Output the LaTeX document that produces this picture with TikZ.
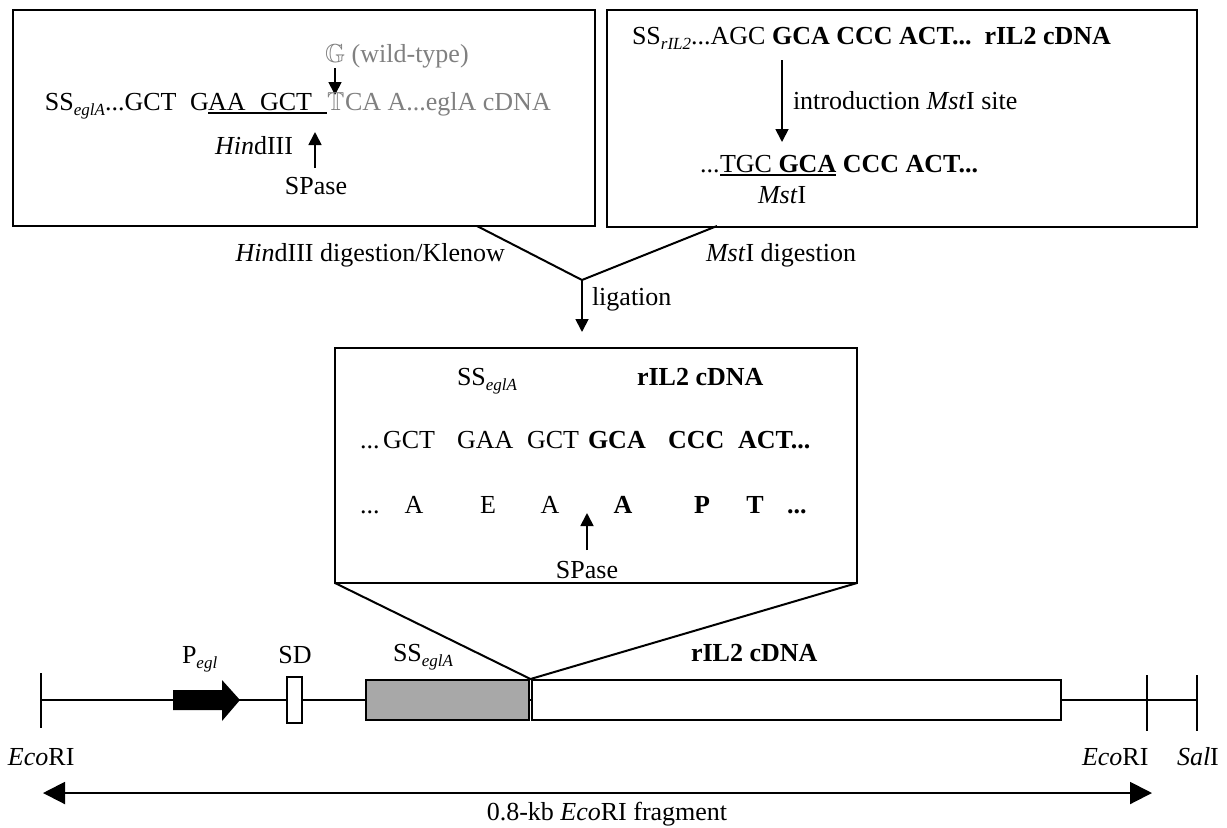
\documentclass[tikz,border=0pt]{standalone}
\usepackage{fontspec}
\setmainfont{Liberation Serif}
\usepackage{amssymb}
\usetikzlibrary{arrows.meta}
\definecolor{txtgray}{gray}{0.5}
\definecolor{boxgray}{gray}{0.66}
\newcommand{\sbi}[1]{\raisebox{-2.5pt}{\fontsize{8.5}{9}\selectfont\itshape #1}}
\tikzset{
  every node/.style={inner sep=0pt, outer sep=0pt, font=\fontsize{13}{15}\selectfont},
  frame/.style={draw, line width=1pt},
  ln/.style={line width=1pt},
  arr/.style={-{Triangle[length=6.5pt,width=6.5pt]}, line width=0.9pt},
  bigarr/.style={{Triangle[length=11pt,width=11pt]}-{Triangle[length=11pt,width=11pt]}, line width=1pt},
  uline/.style={line width=0.8pt},
}
\begin{document}
\begin{tikzpicture}[x=0.5pt,y=-0.5pt]
\useasboundingbox[fill=white] (0,0) rectangle (1227,827);

% ---------- frames ----------
\node[frame, minimum width=291pt, minimum height=108pt] (boxA) at (304,118) {};
\node[frame, minimum width=295pt, minimum height=108.5pt] (boxB) at (902,118.5) {};
\node[frame, minimum width=261pt, minimum height=117.5pt] (boxC) at (596,465.5) {};

% ---------- top-left box ----------
\node[anchor=base west, text=txtgray] (wt) at (325,62) {$\mathbb{G}$ (wild-type)};
\coordinate (wtA) at (335,68);
\coordinate (wtB) at (335,95);
\draw[arr] (wtA) -- (wtB);
\node[anchor=base west] (ssA) at (45,110) {SS\sbi{eglA}...GCT};
\node[anchor=base west] (gA) at (190,110) {G};
\node[anchor=base west] (aa) at (208,110) {AA};
\node[anchor=base west] (gct) at (260,110) {GCT};
\node[anchor=base west, text=txtgray] (tmut) at (327,110) {$\mathbb{T}$};
\node[anchor=base west, text=txtgray] (rest) at (345,110) {CA A...eglA cDNA};
\draw[uline] ([yshift=-1.6pt]aa.base west) -- ([yshift=-1.6pt]tmut.base west);
\node[anchor=base west] (hind) at (215,154) {\textit{Hin}dIII};
\node[anchor=base] (spA) at (316,194) {SPase};
\coordinate (spAt) at (315,132);
\coordinate (spAb) at (315,168);
\draw[arr] (spAb) -- (spAt);

% ---------- top-right box ----------
\node[anchor=base west] (topB) at (632,44) {SS\sbi{rIL2}...AGC \textbf{GCA CCC ACT...\ \ rIL2 cDNA}};
\coordinate (inA) at (782,60);
\coordinate (inB) at (782,142);
\draw[arr] (inA) -- (inB);
\node[anchor=base west] (intro) at (793,109) {introduction \textit{Mst}I site};
\node[anchor=base west] (dotsB) at (700,172) {...};
\node[anchor=base west] (tgc) at (720,172) {TGC \textbf{GCA}};
\node[anchor=base west] (ccc) at ([xshift=3.25pt]tgc.base east) {\textbf{CCC ACT...}};
\draw[uline] ([yshift=-1.6pt]tgc.base west) -- ([yshift=-1.6pt]tgc.base east);
\node[anchor=base west] (mst) at (758,203) {\textit{Mst}I};

% ---------- V and ligation ----------
\coordinate (vl) at (477,226);
\coordinate (vr) at (717,226);
\coordinate (apex) at (582,280);
\coordinate (ligtip) at (582,332);
\draw[ln] (vl) -- (apex) -- (vr);
\draw[arr] (apex) -- (ligtip);
\node[anchor=base east] (hdk) at (505,261) {\textit{Hin}dIII digestion/Klenow};
\node[anchor=base west] (mdg) at (706,261) {\textit{Mst}I digestion};
\node[anchor=base west] (lig) at (592,305) {ligation};

% ---------- middle box ----------
\node[anchor=base west] (mss) at (457,385) {SS\sbi{eglA}};
\node[anchor=base west] (mril) at (637,385) {\textbf{rIL2 cDNA}};
\node[anchor=base west] (c0) at (360,448) {...};
\node[anchor=base west] (c1) at (383,448) {GCT};
\node[anchor=base west] (c2) at (457,448) {GAA};
\node[anchor=base west] (c3) at (527,448) {GCT};
\node[anchor=base west] (c4) at (588,448) {\textbf{GCA}};
\node[anchor=base west] (c5) at (668,448) {\textbf{CCC}};
\node[anchor=base west] (c6) at (738,448) {\textbf{ACT...}};
\node[anchor=base west] (a0) at (360,513) {...};
\node[anchor=base] (a1) at (414,513) {A};
\node[anchor=base] (a2) at (488,513) {E};
\node[anchor=base] (a3) at (550,513) {A};
\node[anchor=base] (a4) at (623,513) {\textbf{A}};
\node[anchor=base] (a5) at (702,513) {\textbf{P}};
\node[anchor=base] (a6) at (755,513) {\textbf{T}};
\node[anchor=base west] (a7) at (787,513) {\textbf{...}};
\node[anchor=base] (spC) at (587,578) {SPase};
\coordinate (spCt) at (587,513);
\coordinate (spCb) at (587,550);
\draw[arr] (spCb) -- (spCt);

% ---------- construct map ----------
\coordinate (bbL) at (41,700);
\coordinate (bbR) at (1197,700);
\draw[ln] (bbL) -- (bbR);
\coordinate (t1a) at (41,673);  \coordinate (t1b) at (41,728);
\coordinate (t2a) at (1147,675); \coordinate (t2b) at (1147,731);
\coordinate (t3a) at (1197,675); \coordinate (t3b) at (1197,731);
\draw[ln] (t1a) -- (t1b);
\draw[ln] (t2a) -- (t2b);
\draw[ln] (t3a) -- (t3b);
\fill (173,690) -- (222,690) -- (222,680) -- (240,700) -- (222,721) -- (222,710) -- (173,710) -- cycle;
\node[frame, fill=white, minimum width=7.5pt, minimum height=23pt] (sd) at (294.5,700) {};
\node[frame, fill=boxgray, minimum width=81.5pt, minimum height=20pt] (ssbox) at (447.5,700) {};
\node[frame, fill=white, minimum width=264.5pt, minimum height=20pt] (rilbox) at (796.5,700) {};
\coordinate (jn) at (530.5,679);
\draw[ln] (boxC.south west) -- (jn) -- (boxC.south east);

\node[anchor=base west] (pegl) at (182,663) {P\sbi{egl}};
\node[anchor=base] (sdl) at (295,663) {SD};
\node[anchor=base west] (ssl) at (393,661) {SS\sbi{eglA}};
\node[anchor=base west] (rill) at (691,661) {\textbf{rIL2 cDNA}};
\node[anchor=base west] (eco1) at (8,765) {\textit{Eco}RI};
\node[anchor=base west] (eco2) at (1082,765) {\textit{Eco}RI};
\node[anchor=base west] (sal) at (1177,765) {\textit{Sal}I};

\coordinate (fL) at (43,793);
\coordinate (fR) at (1152,793);
\draw[bigarr] (fL) -- (fR);
\node[anchor=base] (frag) at (607,820) {0.8-kb \textit{Eco}RI fragment};
\end{tikzpicture}
\end{document}
